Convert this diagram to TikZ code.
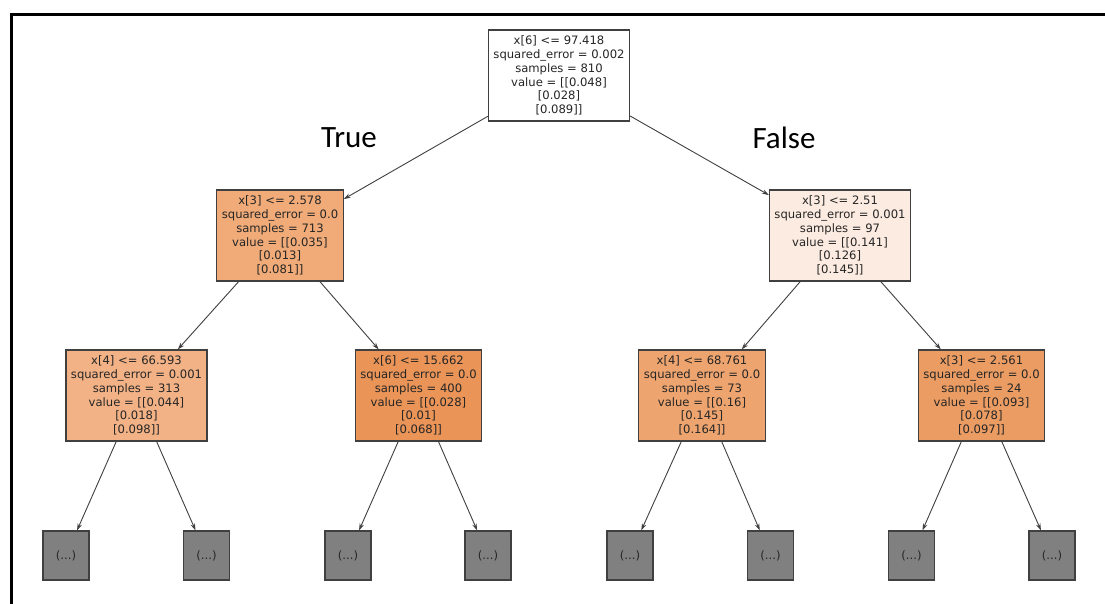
\documentclass[tikz,border=0pt]{standalone}
\usepackage{fontspec}
\setmainfont{DejaVu Sans}
\newfontfamily\labelfont{Carlito}
\usetikzlibrary{arrows.meta}
\definecolor{bordercol}{HTML}{404040}
\definecolor{txtcol}{HTML}{262626}
\definecolor{cLa}{HTML}{F0AB78}
\definecolor{cLb}{HTML}{FCEBE0}
\definecolor{cA}{HTML}{F2B286}
\definecolor{cB}{HTML}{EA9457}
\definecolor{cC}{HTML}{EEA46F}
\definecolor{cD}{HTML}{EB9C63}
\definecolor{leafcol}{HTML}{808080}
\tikzset{
  treebox/.style={draw=bordercol, line width=1.1pt, align=center, inner xsep=5pt, inner ysep=0pt,
    minimum height=91pt, text=txtcol, font=\fontsize{11.6}{13.9}\selectfont},
  leafbox/.style={draw=bordercol, line width=1.1pt, fill=leafcol, minimum width=46pt, minimum height=49pt,
    inner sep=0pt, text=txtcol, font=\fontsize{11.6}{13.9}\selectfont},
  conn/.style={draw=bordercol, line width=0.9pt, -{Stealth[length=7pt,width=4.5pt]}},
  sidelabel/.style={font=\labelfont\fontsize{31}{36}\selectfont, text=black, inner sep=0pt}
}
\begin{document}
\begin{tikzpicture}[x=1pt,y=-1pt]
\useasboundingbox[fill=white] (0,0) rectangle (1105,604);
\draw[line width=3pt, line join=miter] (11,604) -- (11,15) -- (1106,15);

\node[treebox, fill=white] (root) at (559,75.5) {x[6] <= 97.418\\squared\_error = 0.002\\samples = 810\\value = [[0.048]\\{}[0.028]\\{}[0.089]]};
\node[treebox, fill=cLa] (l) at (280,235.5) {x[3] <= 2.578\\squared\_error = 0.0\\samples = 713\\value = [[0.035]\\{}[0.013]\\{}[0.081]]};
\node[treebox, fill=cLb] (r) at (840,235.5) {x[3] <= 2.51\\squared\_error = 0.001\\samples = 97\\value = [[0.141]\\{}[0.126]\\{}[0.145]]};
\node[treebox, fill=cA] (ll) at (136.5,395.5) {x[4] <= 66.593\\squared\_error = 0.001\\samples = 313\\value = [[0.044]\\{}[0.018]\\{}[0.098]]};
\node[treebox, fill=cB] (lr) at (418.5,395.5) {x[6] <= 15.662\\squared\_error = 0.0\\samples = 400\\value = [[0.028]\\{}[0.01]\\{}[0.068]]};
\node[treebox, fill=cC] (rl) at (702,395.5) {x[4] <= 68.761\\squared\_error = 0.0\\samples = 73\\value = [[0.16]\\{}[0.145]\\{}[0.164]]};
\node[treebox, fill=cD] (rr) at (981.5,395.5) {x[3] <= 2.561\\squared\_error = 0.0\\samples = 24\\value = [[0.093]\\{}[0.078]\\{}[0.097]]};

\node[leafbox] (f1) at (66,555.5) {(...)};
\node[leafbox] (f2) at (206.5,555.5) {(...)};
\node[leafbox] (f3) at (348,555.5) {(...)};
\node[leafbox] (f4) at (488,555.5) {(...)};
\node[leafbox] (f5) at (630,555.5) {(...)};
\node[leafbox] (f6) at (770.5,555.5) {(...)};
\node[leafbox] (f7) at (911.5,555.5) {(...)};
\node[leafbox] (f8) at (1052,555.5) {(...)};

\draw[conn] (root) -- (l);
\draw[conn] (root) -- (r);
\draw[conn] (l) -- (ll);
\draw[conn] (l) -- (lr);
\draw[conn] (r) -- (rl);
\draw[conn] (r) -- (rr);
\draw[conn] (ll) -- (f1);
\draw[conn] (ll) -- (f2);
\draw[conn] (lr) -- (f3);
\draw[conn] (lr) -- (f4);
\draw[conn] (rl) -- (f5);
\draw[conn] (rl) -- (f6);
\draw[conn] (rr) -- (f7);
\draw[conn] (rr) -- (f8);

\node[sidelabel] (tl) at (349,138) {True};
\node[sidelabel] (fl) at (784,138) {False};
\end{tikzpicture}
\end{document}
